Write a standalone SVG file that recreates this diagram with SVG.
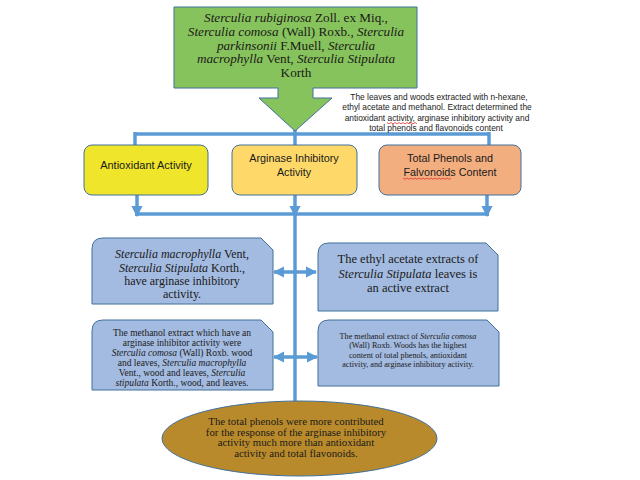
<svg xmlns="http://www.w3.org/2000/svg" width="640" height="480" viewBox="0 0 640 480">
<defs>
<style>
.serif{font-family:"Liberation Serif","Times New Roman",serif;fill:#1a1a1a;text-anchor:middle}
.sans{font-family:"Liberation Sans",Arial,sans-serif;fill:#1a1a1a;text-anchor:middle}
.it{font-style:italic}
.conn{stroke:#5b9bd5;stroke-width:3.5;fill:none}
.blue{fill:#a3bbe0;stroke:#41719c;stroke-width:1}
.squig{stroke:#e03030;stroke-width:0.8;fill:none}
</style>
<marker id="ah" viewBox="0 0 10 10" refX="9" refY="5" markerWidth="3.2" markerHeight="3.2" orient="auto-start-reverse" markerUnits="strokeWidth">
<path d="M0,0 L10,5 L0,10 Z" fill="#5b9bd5"/>
</marker>
</defs>
<rect width="640" height="480" fill="#ffffff"/>

<g id="connectors">
<line class="conn" x1="295" y1="129" x2="295" y2="134"/>
<line class="conn" x1="135" y1="134" x2="489" y2="134"/>
<line class="conn" x1="135" y1="132" x2="135" y2="145"/>
<line class="conn" x1="295" y1="132" x2="295" y2="145"/>
<line class="conn" x1="489" y1="132" x2="489" y2="145"/>
<line class="conn" x1="137" y1="195" x2="137" y2="216" marker-end="url(#ah)"/>
<line class="conn" x1="295" y1="195" x2="295" y2="216" marker-end="url(#ah)"/>
<line class="conn" x1="487" y1="195" x2="487" y2="216" marker-end="url(#ah)"/>
<line class="conn" x1="135" y1="214" x2="489" y2="214"/>
<line class="conn" x1="295" y1="214" x2="295" y2="402"/>
<line class="conn" x1="274" y1="272" x2="316" y2="272" marker-start="url(#ah)" marker-end="url(#ah)"/>
<line class="conn" x1="274" y1="357" x2="317" y2="357" marker-start="url(#ah)" marker-end="url(#ah)"/>
</g>

<g id="species">
<path d="M174,7 H417 V88 H313 V98 H332 L295,131 L259,98 H278 V88 H174 Z" fill="#87c35c" stroke="#41719c" stroke-width="1"/>
<text class="serif" font-size="13.2"><tspan x="296" y="22"><tspan class="it">Sterculia rubiginosa</tspan> Zoll. ex Miq.,</tspan><tspan x="296" y="36"><tspan class="it">Sterculia comosa</tspan> (Wall) Roxb., <tspan class="it">Sterculia</tspan></tspan><tspan x="296" y="49.5"><tspan class="it">parkinsonii</tspan> F.Muell, <tspan class="it">Sterculia</tspan></tspan><tspan x="296" y="63"><tspan class="it">macrophylla</tspan> Vent, <tspan class="it">Sterculia Stipulata</tspan></tspan><tspan x="296" y="77">Korth</tspan></text>
</g>

<g id="note">
<text class="sans" font-size="8.4"><tspan x="439" y="99.5">The leaves and woods extracted with n-hexane,</tspan><tspan x="437" y="109.5">ethyl acetate and methanol. Extract determined the</tspan><tspan x="437" y="120.5">antioxidant activity, arginase inhibitory activity and</tspan><tspan x="436" y="131">total phenols and flavonoids content</tspan></text>
<path class="squig" d="M387,122.5 l2,1.4 l2,-1.4 l2,1.4 l2,-1.4 l2,1.4 l2,-1.4 l2,1.4 l2,-1.4 l2,1.4 l2,-1.4 l2,1.4 l2,-1.4 l2,1.4 l2,-1.4 l2,1.4"/>
</g>

<g id="antioxidant">
<rect x="84" y="145" width="124" height="50" rx="8" fill="#efe52a" stroke="#41719c" stroke-width="1"/>
<text class="sans" font-size="11" x="146" y="169">Antioxidant  Activity</text>
</g>

<g id="arginase">
<rect x="232" y="145" width="125" height="50" rx="8" fill="#fed96a" stroke="#41719c" stroke-width="1"/>
<text class="sans" font-size="10.8"><tspan x="294" y="162">Arginase Inhibitory</tspan><tspan x="294" y="176">Activity</tspan></text>
</g>

<g id="phenols">
<rect x="379" y="145" width="142" height="50" rx="8" fill="#f3ae80" stroke="#41719c" stroke-width="1"/>
<text class="sans" font-size="10.8"><tspan x="450" y="162">Total Phenols and</tspan><tspan x="450" y="176">Falvonoids Content</tspan></text>
<path class="squig" d="M403,178 l2,1.4 l2,-1.4 l2,1.4 l2,-1.4 l2,1.4 l2,-1.4 l2,1.4 l2,-1.4 l2,1.4 l2,-1.4 l2,1.4 l2,-1.4 l2,1.4 l2,-1.4 l2,1.4 l2,-1.4 l2,1.4 l2,-1.4 l2,1.4 l2,-1.4 l2,1.4 l2,-1.4 l2,1.4 l2,-1.4"/>
</g>

<g id="result1">
<path class="blue" d="M92,304 V249 Q92,238 103,238 H261 L273,250 V304 Z"/>
<text class="serif" font-size="12"><tspan x="182" y="258"><tspan class="it">Sterculia macrophylla</tspan> Vent,</tspan><tspan x="182" y="271.5"><tspan class="it">Sterculia Stipulata</tspan> Korth.,</tspan><tspan x="182" y="285">have arginase inhibitory</tspan><tspan x="182" y="298">activity.</tspan></text>
</g>

<g id="result2">
<path class="blue" d="M318,311 V254 Q318,243 329,243 H486 L498,255 V311 Z"/>
<text class="serif" font-size="12.5"><tspan x="408" y="263">The ethyl acetate extracts of</tspan><tspan x="408" y="277.5"><tspan class="it">Sterculia Stipulata</tspan> leaves is</tspan><tspan x="408" y="292">an active extract</tspan></text>
</g>

<g id="result3">
<path class="blue" d="M92,390 V331 Q92,320 103,320 H261 L273,332 V390 Z"/>
<text class="serif" font-size="9.5"><tspan x="182" y="336">The methanol extract which have an</tspan><tspan x="182" y="346">arginase inhibitor activity were</tspan><tspan x="182" y="356"><tspan class="it">Sterculia comosa</tspan> (Wall) Roxb. wood</tspan><tspan x="182" y="366">and leaves, <tspan class="it">Sterculia macrophylla</tspan></tspan><tspan x="182" y="375.5">Vent., wood and leaves, <tspan class="it">Sterculia</tspan></tspan><tspan x="182" y="385.5"><tspan class="it">stipulata</tspan> Korth., wood, and leaves.</tspan></text>
</g>

<g id="result4">
<path class="blue" d="M318,386 V331 Q318,320 329,320 H487 L499,332 V386 Z"/>
<text class="serif" font-size="8.2"><tspan x="408" y="339">The methanol extract of <tspan class="it">Sterculia comosa</tspan></tspan><tspan x="408" y="348.3">(Wall) Roxb. Woods has the highest</tspan><tspan x="408" y="357.6">content of total phenols, antioxidant</tspan><tspan x="408" y="366.9">activity, and arginase inhibitory activity.</tspan></text>
</g>

<g id="conclusion">
<ellipse cx="299.5" cy="438.5" rx="137.5" ry="37.5" fill="#b98a2b" stroke="#41719c" stroke-width="1"/>
<text class="serif" font-size="10.8"><tspan x="296" y="424.5">The total phenols were more contributed</tspan><tspan x="296" y="435.5">for the response of the arginase inhibitory</tspan><tspan x="296" y="446.2">activity much more than antioxidant</tspan><tspan x="296" y="457">activity and total flavonoids.</tspan></text>
</g>
</svg>
